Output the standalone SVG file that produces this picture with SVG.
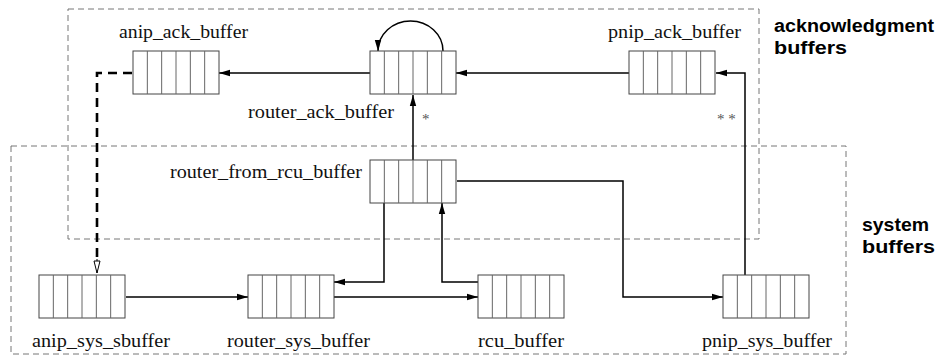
<svg xmlns="http://www.w3.org/2000/svg" xmlns:xlink="http://www.w3.org/1999/xlink" width="939" height="356" viewBox="0 0 939 356">
<style>
.region{fill:none;stroke:#777;stroke-width:1;stroke-dasharray:6 4}
.lbl{font-family:"Liberation Serif","Times New Roman",serif;font-size:19.5px;fill:#111}
.grp{font-family:"Liberation Sans",Arial,sans-serif;font-size:18px;font-weight:bold;fill:#000}
.star{font-family:"Liberation Serif","Times New Roman",serif;font-size:15px;fill:#555}
.conn{fill:none;stroke:#000;stroke-width:1.5}
.dash{fill:none;stroke:#000;stroke-width:2.6;stroke-dasharray:9 6}
.bufbox{fill:#fff;stroke:#444;stroke-width:1}
.bufdiv{stroke:#666;stroke-width:1}
</style>
<defs>
<marker id="arr" markerUnits="userSpaceOnUse" markerWidth="11" markerHeight="8" refX="11" refY="4" orient="auto">
<path d="M0,0.8 L11,4 L0,7.2 z" fill="#000"/>
</marker>
<marker id="open" markerUnits="userSpaceOnUse" markerWidth="14" markerHeight="8" refX="13" refY="4" orient="auto">
<path d="M1,1 L13,4 L1,7 z" fill="#fff" stroke="#000" stroke-width="1"/>
</marker>
<g id="buf">
<rect class="bufbox" x="0" y="0" width="86" height="43"/>
<path class="bufdiv" d="M14.33,0V43M28.67,0V43M43,0V43M57.33,0V43M71.67,0V43"/>
</g>
</defs>

<rect class="region" x="68" y="9" width="691" height="230"/>
<rect class="region" x="11" y="146" width="835" height="208"/>
<text class="grp" x="774" y="32" textLength="160" lengthAdjust="spacingAndGlyphs">acknowledgment</text>
<text class="grp" x="774" y="54" textLength="73" lengthAdjust="spacingAndGlyphs">buffers</text>
<text class="grp" x="862" y="231" textLength="67" lengthAdjust="spacingAndGlyphs">system</text>
<text class="grp" x="862" y="253" textLength="73" lengthAdjust="spacingAndGlyphs">buffers</text>

<g id="connectors">
<path class="conn" d="M371,73 H219" marker-end="url(#arr)"/>
<path class="conn" d="M629,73 H456" marker-end="url(#arr)"/>
<path class="conn" d="M443,51 A32.5,30 0 0 0 378,51" marker-end="url(#arr)"/>
<path class="conn" d="M413,160 V95" marker-end="url(#arr)"/>
<path class="conn" d="M745,275 V73 H716" marker-end="url(#arr)"/>
<path class="dash" d="M132,73 H97 V259"/>
<path d="M97,259 V273" fill="none" stroke="#000" stroke-width="1" marker-end="url(#open)"/>
<path class="conn" d="M126,297 H248" marker-end="url(#arr)"/>
<path class="conn" d="M334,297 H478" marker-end="url(#arr)"/>
<path class="conn" d="M384,203 V282 H334" marker-end="url(#arr)"/>
<path class="conn" d="M478,282 H442 V203" marker-end="url(#arr)"/>
<path class="conn" d="M457,181 H623 V297 H723" marker-end="url(#arr)"/>
<text class="star" x="422" y="124">*</text>
<text class="star" x="717" y="124">* *</text>
</g>

<g id="anip_ack_buffer">
<use xlink:href="#buf" x="133" y="51"/>
<text class="lbl" x="119" y="38" textLength="129" lengthAdjust="spacingAndGlyphs">anip_ack_buffer</text>
</g>
<g id="router_ack_buffer">
<use xlink:href="#buf" x="370" y="51"/>
<text class="lbl" x="248" y="118" textLength="146" lengthAdjust="spacingAndGlyphs">router_ack_buffer</text>
</g>
<g id="pnip_ack_buffer">
<use xlink:href="#buf" x="629" y="51"/>
<text class="lbl" x="608" y="38" textLength="133" lengthAdjust="spacingAndGlyphs">pnip_ack_buffer</text>
</g>
<g id="router_from_rcu_buffer">
<use xlink:href="#buf" x="370" y="160"/>
<text class="lbl" x="170" y="178" textLength="192" lengthAdjust="spacingAndGlyphs">router_from_rcu_buffer</text>
</g>
<g id="anip_sys_sbuffer">
<use xlink:href="#buf" x="39" y="275"/>
<text class="lbl" x="32" y="347" textLength="138" lengthAdjust="spacingAndGlyphs">anip_sys_sbuffer</text>
</g>
<g id="router_sys_buffer">
<use xlink:href="#buf" x="248" y="275"/>
<text class="lbl" x="227" y="347" textLength="143" lengthAdjust="spacingAndGlyphs">router_sys_buffer</text>
</g>
<g id="rcu_buffer">
<use xlink:href="#buf" x="478" y="275"/>
<text class="lbl" x="478" y="347" textLength="86" lengthAdjust="spacingAndGlyphs">rcu_buffer</text>
</g>
<g id="pnip_sys_buffer">
<use xlink:href="#buf" x="723" y="275"/>
<text class="lbl" x="702" y="347" textLength="130" lengthAdjust="spacingAndGlyphs">pnip_sys_buffer</text>
</g>
</svg>
